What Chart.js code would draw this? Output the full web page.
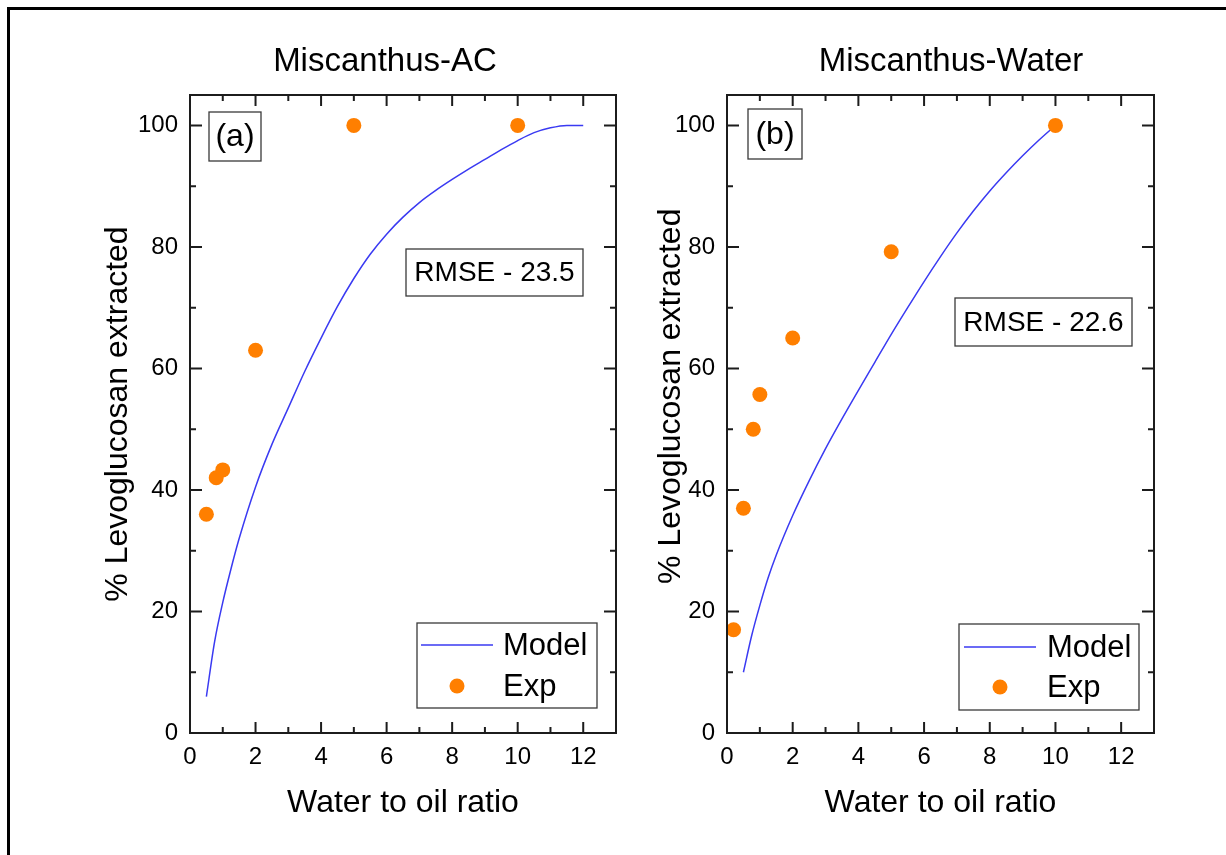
<!DOCTYPE html>
<html>
<head>
<meta charset="utf-8">
<script src="https://cdn.jsdelivr.net/npm/chart.js@4.4.1/dist/chart.umd.min.js"></script>
<style>
html, body { margin: 0; padding: 0; background: #fff; }
#wrap { position: relative; width: 1226px; height: 855px; overflow: hidden; background: #fff; }
#frame { position: absolute; left: 7px; top: 7px; width: 1300px; height: 900px; border-left: 3px solid #000; border-top: 3px solid #000; }
canvas { position: absolute; top: 0; }
</style>
</head>
<body>
<div id="wrap">
  <div id="frame"></div>
  <canvas id="chartA" width="640" height="855" style="left:0px"></canvas>
  <canvas id="chartB" width="666" height="855" style="left:560px"></canvas>
</div>
<script>
// (a) Miscanthus-AC
let modelRatioA = [0.5, 0.75, 1, 1.25, 1.5, 2, 2.5, 3, 3.5, 4, 4.5, 5, 5.5, 6, 6.5, 7, 7.5, 8, 8.5, 9, 9.5, 10, 10.5, 11, 11.5, 12];
let modelA = [6, 15, 21.5, 27, 32, 40.5, 47.5, 53.5, 59.5, 65, 70.2, 74.8, 78.8, 82.1, 84.9, 87.3, 89.3, 91.1, 92.8, 94.4, 96, 97.5, 98.8, 99.6, 100, 100];
let expRatioA = [0.5, 0.8, 1, 2, 5, 10];
let expA = [36, 42, 43.3, 63, 100, 100];

// (b) Miscanthus-Water
let modelRatioB = [0.5, 0.75, 1, 1.25, 1.5, 2, 2.5, 3, 3.5, 4, 4.5, 5, 5.5, 6, 6.5, 7, 7.5, 8, 8.5, 9, 9.5, 10];
let modelB = [10, 16, 21, 25.5, 29.3, 35.8, 41.5, 46.8, 51.7, 56.4, 61, 65.6, 70, 74.3, 78.4, 82.3, 85.9, 89.2, 92.2, 95, 97.6, 100];
let expRatioB = [0.2, 0.5, 0.8, 1, 2, 5, 10];
let expB = [17, 37, 50, 55.7, 65, 79.2, 100];

let xTicks = [0, 2, 4, 6, 8, 10, 12];
let yTicks = [0, 20, 40, 60, 80, 100];

const FONT = '"Liberation Sans", Arial, sans-serif';
const modelColor = '#3a3af2';
const expColor = '#ff7f00';

Chart.defaults.font.family = FONT;
Chart.defaults.color = '#000';

function pairs(xs, ys) {
  let out = [];
  for (let i = 0; i < xs.length; i++) out.push({x: xs[i], y: ys[i]});
  return out;
}

// frame, inward ticks, titles, tag, RMSE box and legend
const panelDeco = {
  id: 'panelDeco',
  afterDraw(chart, args, o) {
    const ctx = chart.ctx;
    const {left, right, top, bottom} = chart.chartArea;
    const sx = chart.scales.x, sy = chart.scales.y;
    const dx = o.dx;
    ctx.save();
    ctx.strokeStyle = '#1c1c1c';
    ctx.lineWidth = 2;
    ctx.strokeRect(left, top, right - left, bottom - top);

    let xMaj = sx.ticks.map(t => t.value);
    let yMaj = sy.ticks.map(t => t.value);
    let xMin = [], yMin = [];
    for (let i = 1; i < xMaj.length; i++) xMin.push((xMaj[i - 1] + xMaj[i]) / 2);
    for (let i = 1; i < yMaj.length; i++) yMin.push((yMaj[i - 1] + yMaj[i]) / 2);

    ctx.beginPath();
    xMaj.forEach(v => { let p = sx.getPixelForValue(v); ctx.moveTo(p, bottom); ctx.lineTo(p, bottom - 11); ctx.moveTo(p, top); ctx.lineTo(p, top + 11); });
    xMin.forEach(v => { let p = sx.getPixelForValue(v); ctx.moveTo(p, bottom); ctx.lineTo(p, bottom - 6); ctx.moveTo(p, top); ctx.lineTo(p, top + 6); });
    yMaj.forEach(v => { let p = sy.getPixelForValue(v); ctx.moveTo(left, p); ctx.lineTo(left + 12, p); ctx.moveTo(right, p); ctx.lineTo(right - 12, p); });
    yMin.forEach(v => { let p = sy.getPixelForValue(v); ctx.moveTo(left, p); ctx.lineTo(left + 6, p); ctx.moveTo(right, p); ctx.lineTo(right - 6, p); });
    ctx.stroke();

    ctx.fillStyle = '#000';
    ctx.textBaseline = 'middle';

    // panel title
    ctx.font = '33px ' + FONT;
    ctx.textAlign = 'center';
    ctx.fillText(o.title.text, o.title.x - dx, o.title.y);

    // boxes
    ctx.strokeStyle = '#3a3a3a';
    ctx.lineWidth = 1.3;
    [o.tag, o.rmse].forEach(b => {
      let [bx, by, bw, bh] = b.box;
      ctx.strokeRect(bx - dx, by, bw, bh);
      ctx.font = b.size + 'px ' + FONT;
      ctx.textAlign = 'center';
      ctx.fillText(b.text, bx - dx + bw / 2, by + bh / 2 + 1);
    });

    // legend
    let lg = o.legend;
    let [lx, ly, lw, lh] = lg.box;
    ctx.strokeRect(lx - dx, ly, lw, lh);
    let ds = chart.data.datasets;
    ctx.strokeStyle = ds[0].borderColor;
    ctx.lineWidth = ds[0].borderWidth;
    ctx.beginPath();
    ctx.moveTo(lg.lineX[0] - dx, lg.row1);
    ctx.lineTo(lg.lineX[1] - dx, lg.row1);
    ctx.stroke();
    ctx.fillStyle = ds[1].pointBackgroundColor;
    ctx.beginPath();
    ctx.arc(lg.markX - dx, lg.row2, ds[1].pointRadius, 0, Math.PI * 2);
    ctx.fill();
    ctx.fillStyle = '#000';
    ctx.font = '31px ' + FONT;
    ctx.textAlign = 'left';
    ctx.fillText(ds[0].label, lg.textX - dx, lg.row1 + 1);
    ctx.fillText(ds[1].label, lg.textX - dx, lg.row2 + 1);
    ctx.restore();
  }
};

function makeChart(id, modelX, modelY, expX, expY, layout, deco) {
  let ctx = document.getElementById(id).getContext('2d');
  return new Chart(ctx, {
    type: 'scatter',
    data: {
      datasets: [{
        label: 'Model',
        data: pairs(modelX, modelY),
        showLine: true,
        cubicInterpolationMode: 'monotone',
        borderColor: modelColor,
        borderWidth: 1.5,
        pointRadius: 0,
        fill: false,
        order: 1,
      }, {
        label: 'Exp',
        data: pairs(expX, expY),
        pointRadius: 7.5,
        pointBackgroundColor: expColor,
        pointBorderWidth: 0,
        backgroundColor: expColor,
        borderColor: expColor,
        order: 0,
      }],
    },
    options: {
      responsive: false,
      animation: false,
      events: [],
      devicePixelRatio: 1,
      layout: {padding: {top: 95, right: layout.padRight, left: 0, bottom: 0}},
      plugins: {
        legend: {display: false},
        tooltip: {enabled: false},
        panelDeco: deco,
      },
      scales: {
        x: {
          type: 'linear', min: 0, max: 13,
          afterBuildTicks: (s) => { s.ticks = xTicks.map(v => ({value: v})); },
          ticks: {padding: 10, font: {size: 24}, color: '#000', maxRotation: 0},
          grid: {display: false, drawTicks: false},
          border: {display: false},
          title: {display: true, text: 'Water to oil ratio', font: {size: 32}, color: '#000', padding: {top: 0, bottom: 33}},
          afterFit: (s) => { s.height = 122; },
        },
        y: {
          type: 'linear', min: 0, max: 105,
          afterBuildTicks: (s) => { s.ticks = yTicks.map(v => ({value: v})); },
          ticks: {padding: 12, font: {size: 24}, color: '#000'},
          grid: {display: false, drawTicks: false},
          border: {display: false},
          title: {display: true, text: layout.yTitle, font: {size: 32}, color: '#000', padding: {top: layout.yTitlePad, bottom: 0}},
          afterFit: (s) => { s.width = layout.yWidth; },
        },
      },
    },
    plugins: [panelDeco],
  });
}

makeChart('chartA', modelRatioA, modelA, expRatioA, expA,
  {padRight: 24, yWidth: 190, yTitlePad: 99, yTitle: '% Levoglucosan extracted'},
  {
    dx: 0,
    title: {text: 'Miscanthus-AC', x: 385, y: 62},
    tag: {text: '(a)', size: 32, box: [209, 112, 52, 49]},
    rmse: {text: 'RMSE - 23.5', size: 28, box: [406, 249, 177, 47]},
    legend: {box: [417, 623, 180, 85], lineX: [421, 493], row1: 645, row2: 686, markX: 457, textX: 503},
  });

makeChart('chartB', modelRatioB, modelB, expRatioB, expB,
  {padRight: 72, yWidth: 167, yTitlePad: 92, yTitle: '    % Levoglucosan extracted'},
  {
    dx: 560,
    title: {text: 'Miscanthus-Water', x: 951, y: 62},
    tag: {text: '(b)', size: 32, box: [748, 109, 54, 50]},
    rmse: {text: 'RMSE - 22.6', size: 28, box: [955, 298, 177, 48]},
    legend: {box: [959, 624, 180, 86], lineX: [964, 1036], row1: 647, row2: 687, markX: 1000, textX: 1047},
  });
</script>
</body>
</html>
